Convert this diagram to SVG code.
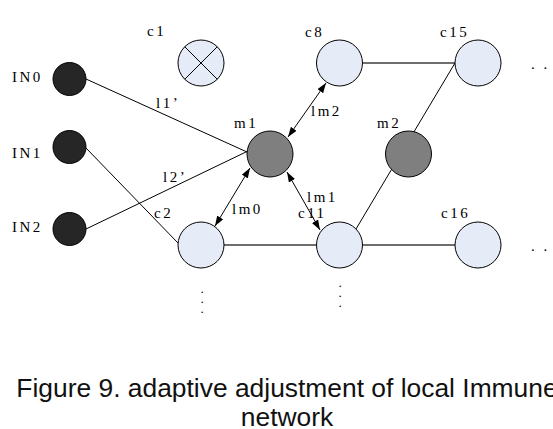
<svg xmlns="http://www.w3.org/2000/svg" width="553" height="429" viewBox="0 0 553 429">
<style>
.lbl{font-family:"Liberation Serif","DejaVu Serif",serif;font-size:15px;letter-spacing:2.5px;fill:#000}
.dot{font-family:"Liberation Serif","DejaVu Serif",serif;font-size:13px;fill:#000;text-anchor:middle}
.in{fill:#262626;stroke:#000;stroke-width:1}
.c{fill:#e6ecf7;stroke:#000;stroke-width:1}
.m{fill:#7f7f7f;stroke:#000;stroke-width:1}
.ln{stroke:#000;stroke-width:1;fill:none}
.gl{stroke:#6e6e6e;stroke-width:2;fill:none}
.ar{stroke:#000;stroke-width:1;fill:none;marker-start:url(#ah);marker-end:url(#ah)}
.cap{font-family:"Liberation Sans",Arial,sans-serif;font-size:26.4px;fill:#111;text-anchor:middle}
</style>
<defs>
<marker id="ah" viewBox="0 0 10 7" refX="10" refY="3.5" markerWidth="10" markerHeight="7" markerUnits="userSpaceOnUse" orient="auto-start-reverse">
<path d="M0,0 L10,3.5 L0,7 z" fill="#000"/>
</marker>
</defs>
<rect width="553" height="429" fill="#fff"/>
<g id="connectors">
<line class="ln" x1="86" y1="79" x2="247" y2="152"/>
<line class="ln" x1="86" y1="148" x2="178" y2="243"/>
<line class="ln" x1="86" y1="229" x2="248" y2="151"/>
<line class="gl" x1="224" y1="245" x2="316.5" y2="245"/>
<line class="gl" x1="362.5" y1="245" x2="455" y2="245"/>
<line class="gl" x1="362.5" y1="63" x2="455" y2="63"/>
<line class="ln" x1="455" y1="63" x2="356" y2="229"/>
<line class="ar" x1="250" y1="168" x2="215" y2="226"/>
<line class="ar" x1="287" y1="172" x2="320" y2="230"/>
<line class="ar" x1="288" y1="137" x2="326" y2="83"/>
</g>
<g id="IN0"><circle class="in" cx="69.5" cy="79" r="16.5"/><text class="lbl" x="12" y="82">IN0</text></g>
<g id="IN1"><circle class="in" cx="69.5" cy="147" r="16.5"/><text class="lbl" x="12" y="158">IN1</text></g>
<g id="IN2"><circle class="in" cx="69.5" cy="229" r="16.5"/><text class="lbl" x="12" y="232">IN2</text></g>
<g id="c1"><circle class="c" cx="201" cy="63" r="23"/><line class="ln" x1="184.7" y1="46.7" x2="217.3" y2="79.3"/><line class="ln" x1="217.3" y1="46.7" x2="184.7" y2="79.3"/><text class="lbl" x="147" y="36">c1</text></g>
<g id="c8"><circle class="c" cx="339.5" cy="63" r="23"/><text class="lbl" x="305" y="37">c8</text></g>
<g id="c15"><circle class="c" cx="478" cy="63" r="23"/><text class="lbl" x="440" y="37">c15</text></g>
<g id="m1"><circle class="m" cx="270" cy="154" r="23"/><text class="lbl" x="234" y="128">m1</text></g>
<g id="m2"><circle class="m" cx="408.5" cy="154" r="23"/><text class="lbl" x="377" y="128">m2</text></g>
<g id="c2"><circle class="c" cx="201" cy="245" r="23"/><text class="lbl" x="154" y="218">c2</text><text class="dot" x="202" y="293">.<tspan x="202" dy="10">.</tspan><tspan x="202" dy="10">.</tspan></text></g>
<g id="c11"><circle class="c" cx="339.5" cy="245" r="23"/><text class="lbl" x="298" y="218">c11</text><text class="dot" x="340" y="287">.<tspan x="340" dy="10">.</tspan><tspan x="340" dy="10">.</tspan></text></g>
<g id="c16"><circle class="c" cx="478" cy="245" r="23"/><text class="lbl" x="441" y="218">c16</text></g>
<g id="labels">
<text class="lbl" x="156" y="108">l1’</text>
<text class="lbl" x="163" y="182">l2’</text>
<text class="lbl" x="311" y="116">lm2</text>
<text class="lbl" x="232" y="214">lm0</text>
<text class="lbl" x="307" y="202">lm1</text>
<text class="lbl" x="531" y="69">. .</text>
<text class="lbl" x="531" y="251">. .</text>
</g>
<g id="caption">
<text class="cap" x="287" y="397">Figure 9. adaptive adjustment of local Immune</text>
<text class="cap" x="287" y="426">network</text>
</g>
</svg>
